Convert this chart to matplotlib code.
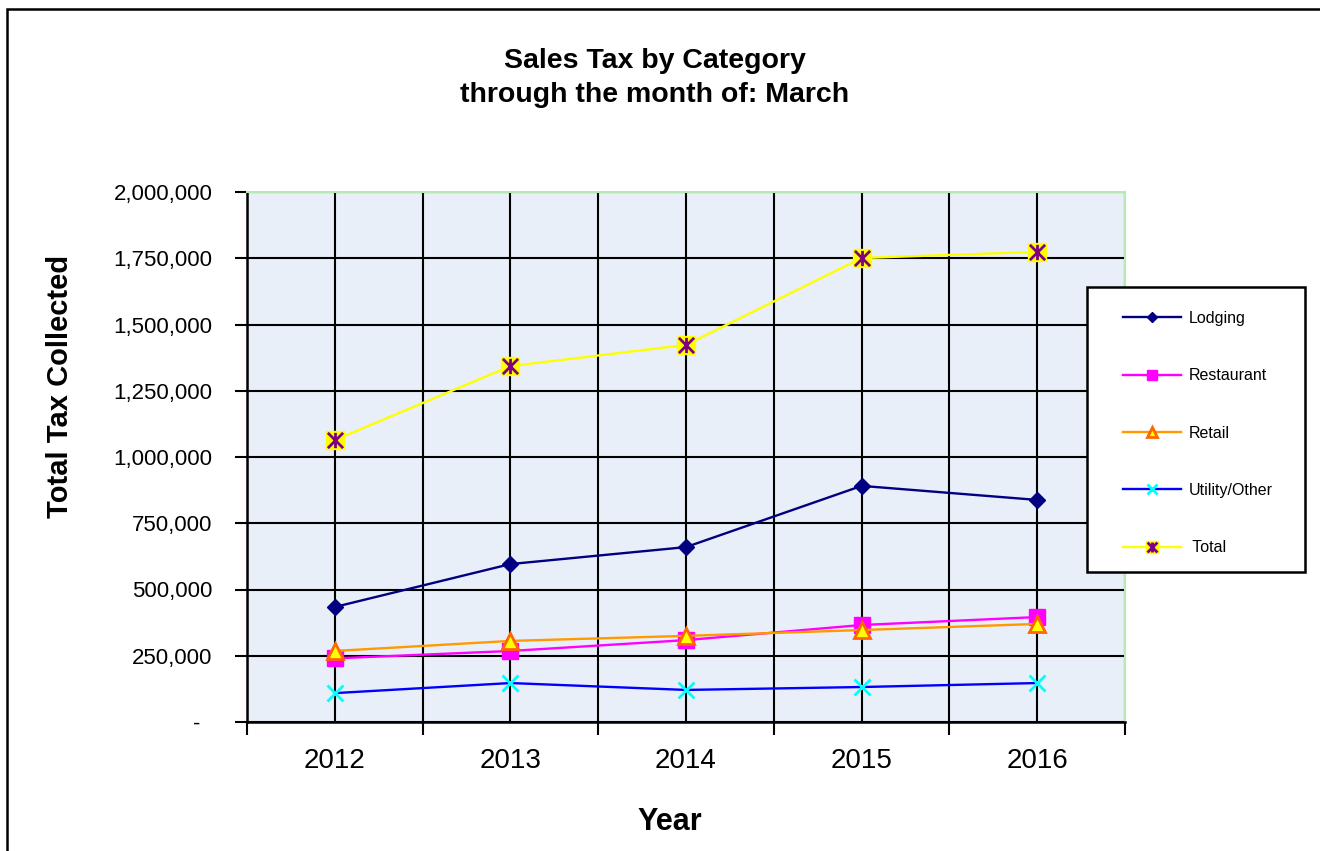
"""Sales tax by category, cumulative through March, 2012-2016."""

import matplotlib
matplotlib.use("Agg")
import matplotlib.pyplot as plt
from matplotlib import font_manager
from matplotlib.legend_handler import HandlerTuple
from matplotlib.patches import Rectangle
from matplotlib.path import Path
from matplotlib.ticker import FixedLocator, FuncFormatter, MultipleLocator

years = ["2012", "2013", "2014", "2015", "2016"]
lodging = [434000, 596000, 660000, 891000, 838000]
restaurant = [240000, 268000, 309000, 366000, 396000]
retail = [268000, 306000, 325000, 347000, 370000]
utility_other = [109000, 147000, 121000, 132000, 147000]
total = [1064000, 1343000, 1423000, 1751000, 1774000]

installed = {f.name for f in font_manager.fontManager.ttflist}
BASE_FONT = "Liberation Sans" if "Liberation Sans" in installed else "DejaVu Sans"
plt.rcParams["font.family"] = [BASE_FONT, "DejaVu Sans"]

PLOT_BG = "#E9EFF8"

# Excel-style "star" marker: an x with a vertical bar through it
STAR = Path(
    [(-1, -1), (1, 1), (-1, 1), (1, -1), (0, -1), (0, 1)],
    [Path.MOVETO, Path.LINETO, Path.MOVETO, Path.LINETO, Path.MOVETO, Path.LINETO],
)


def axis_money(v, _pos):
    if abs(v) < 1:
        return "-  "
    return f"{v:,.0f}"


fig = plt.figure(figsize=(13.2, 8.51), dpi=100)
ax = fig.add_axes([247 / 1320, 1 - 722 / 851, 878 / 1320, 530 / 851])
ax.set_facecolor(PLOT_BG)

x = list(range(len(years)))

l_lodging, = ax.plot(x, lodging, color="#000080", lw=1.7, marker="D",
                     ms=8, mfc="#000080", mec="#000080", zorder=5)
l_rest, = ax.plot(x, restaurant, color="#FF00FF", lw=1.7, marker="s",
                  ms=11, mfc="#FF00FF", mec="#FF00FF", zorder=5)
l_retail, = ax.plot(x, retail, color="#FF9900", lw=1.7, marker="^",
                    ms=12, mfc="#FFFF00", mec="#FF6600", mew=2, zorder=6)
l_util, = ax.plot(x, utility_other, color="#0000FF", lw=1.7, marker="x",
                  ms=12, mec="#00FFFF", mew=2, zorder=5)
l_total, = ax.plot(x, total, color="#FFFF00", lw=1.7, marker="s",
                   ms=13, mfc="#FFFF00", mec="#FFFF00", zorder=5)
l_star, = ax.plot(x, total, ls="none", marker=STAR, ms=11,
                  mec="#800080", mew=2, zorder=7)

ax.set_xlim(-0.5, len(years) - 0.5)
ax.set_ylim(0, 2000000)

# category boundaries carry tick marks; labels sit at the category centres
boundaries = [i - 0.5 for i in range(len(years) + 1)]
ax.xaxis.set_major_locator(FixedLocator(boundaries))
ax.xaxis.set_minor_locator(FixedLocator(x))
ax.xaxis.set_major_formatter(FuncFormatter(lambda v, p: ""))
ax.xaxis.set_minor_formatter(FuncFormatter(lambda v, p: years[int(round(v))]))
ax.tick_params(axis="x", which="major", direction="out", length=9, width=1.5,
               color="black")
ax.tick_params(axis="x", which="minor", length=0, pad=19, labelsize=20)

ax.yaxis.set_major_locator(MultipleLocator(250000))
ax.yaxis.set_major_formatter(FuncFormatter(axis_money))
ax.tick_params(axis="y", direction="out", length=9, width=1.5, pad=16,
               labelsize=16)

ax.grid(True, which="both", axis="x", color="black", lw=1.5, zorder=1)
ax.grid(True, which="major", axis="y", color="black", lw=1.5, zorder=1)
ax.set_axisbelow(True)

for side in ("left", "bottom"):
    ax.spines[side].set_color("black")
    ax.spines[side].set_linewidth(1.8)
for side in ("top", "right"):
    ax.spines[side].set_color("#B8E8B4")
    ax.spines[side].set_linewidth(1.5)

fig.text(655 / 1320, 1 - 78 / 851,
         "Sales Tax by Category\nthrough the month of: March",
         ha="center", va="center", fontsize=20.5, fontweight="bold",
         linespacing=1.45)
fig.text(60 / 1320, 1 - 386 / 851, "Total Tax Collected", rotation=90,
         ha="center", va="center", fontsize=21, fontweight="bold")
fig.text(670 / 1320, 1 - 822 / 851, "Year", ha="center", va="center",
         fontsize=22, fontweight="bold")

# legend box drawn separately so the padding can be set freely
fig.patches.append(Rectangle((1087 / 1320, 1 - 572 / 851), 218 / 1320,
                             285 / 851, transform=fig.transFigure,
                             facecolor="white", edgecolor="black", lw=1.8,
                             zorder=3))
leg = fig.legend(
    [l_lodging, l_rest, l_retail, l_util, (l_total, l_star)],
    ["Lodging", "Restaurant", "Retail", "Utility/Other", " Total"],
    handler_map={tuple: HandlerTuple(ndivide=1)},
    loc="upper left", bbox_to_anchor=(1123 / 1320, 1 - 311 / 851),
    frameon=False, fontsize=11.5, handlelength=3.6, handletextpad=0.5,
    labelspacing=2.65, borderpad=0, borderaxespad=0, markerscale=0.65,
)
leg.set_zorder(4)

# outer chart border
fig.patches.append(Rectangle((7 / 1320, -0.1), 1.2, 1 - 9 / 851 + 0.1,
                             transform=fig.transFigure, fill=False,
                             edgecolor="black", lw=1.8, clip_on=False))

fig.savefig("out.png", dpi=100)
